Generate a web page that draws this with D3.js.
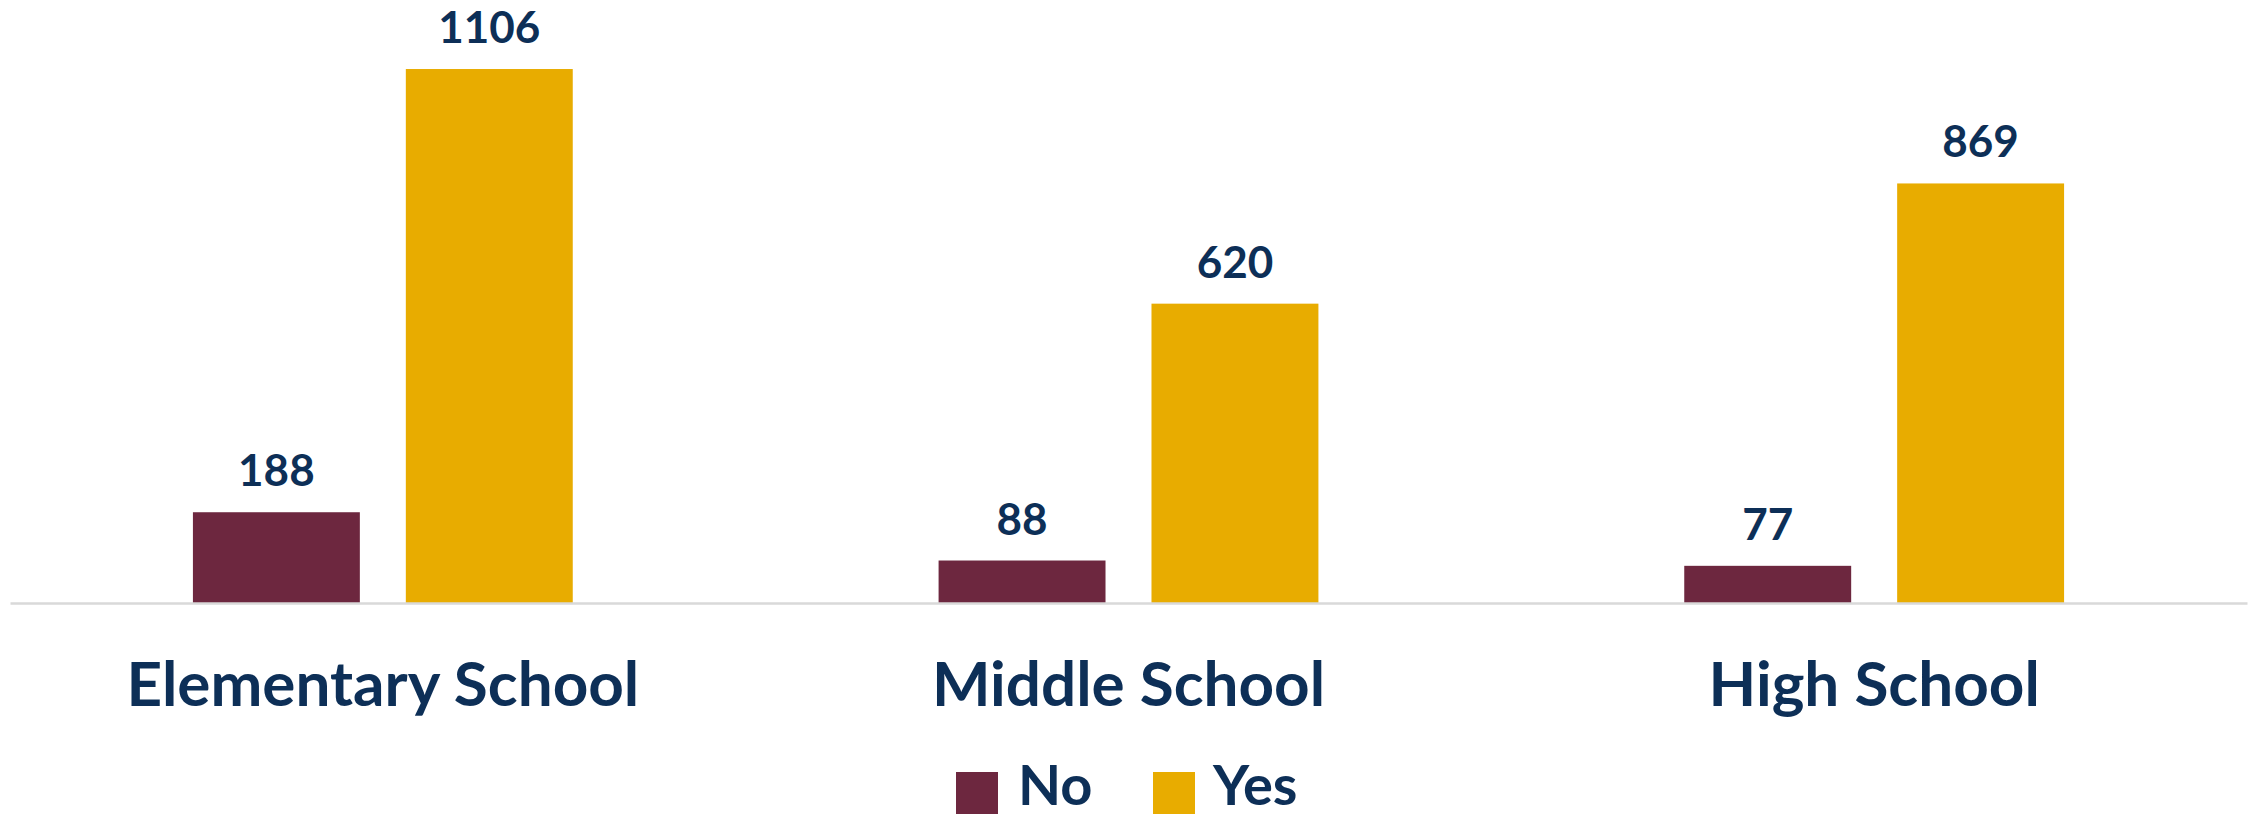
<!DOCTYPE html>
<html><head><meta charset="utf-8">
<script src="https://cdn.jsdelivr.net/npm/d3@7"></script>
<style>body{margin:0;background:#fff}svg{display:block}text{font-family:Lato,"Open Sans",sans-serif;font-weight:700}</style>
</head><body><svg id="c" width="2257" height="819"></svg>
<script>
const categories = ["Elementary School","Middle School","High School"];
const seriesNames = ["No","Yes"];
const noValues = [188, 88, 77];
const yesValues = [1106, 620, 869];
const seriesColors = ["#6D273F","#E8AC00"];

const svg = d3.select("#c");
const x0 = d3.scaleBand().domain(categories).range([10, 2247]).paddingInner(0).paddingOuter(0);
const x1 = d3.scaleBand().domain(seriesNames).range([0, x0.bandwidth()]).paddingInner(46/213).paddingOuter(183/213);
const y = d3.scaleLinear().domain([0, 1200]).range([603, 603 - 1200*0.4828]);
const textColor = "#0D2F57";

const data = categories.map((c,i)=>({cat:c, vals:[{s:"No",v:noValues[i]},{s:"Yes",v:yesValues[i]}]}));
const color = d3.scaleOrdinal().domain(seriesNames).range(seriesColors);

const g = svg.selectAll("g.cat").data(data).join("g").attr("class","cat")
  .attr("transform", d=>`translate(${x0(d.cat)},0)`);
g.selectAll("rect").data(d=>d.vals).join("rect")
  .attr("x", d=>x1(d.s)).attr("width", x1.bandwidth())
  .attr("y", d=>y(d.v)).attr("height", d=>y(0)-y(d.v))
  .attr("fill", d=>color(d.s));
g.selectAll("text.val").data(d=>d.vals).join("text").attr("class","val")
  .attr("x", d=>x1(d.s)+x1.bandwidth()/2).attr("y", d=>y(d.v)-26)
  .attr("text-anchor","middle").attr("fill",textColor).attr("font-size",44)
  .text(d=>d.v);

// axis
const xAxis = d3.axisBottom(x0).tickSize(0).tickPadding(0);
const ax = svg.append("g").attr("transform","translate(0,603)").call(xAxis);
ax.select(".domain").attr("stroke","#D9D9D9").attr("stroke-width",2.5);
ax.selectAll(".tick text").attr("dy",null).attr("y",103).attr("font-size",62)
  .attr("fill",textColor).style("font-family","Lato, 'Open Sans', sans-serif").style("font-weight",700);

// legend
const legend = svg.append("g");
const items = [{s:"No",sx:956,tx:1018},{s:"Yes",sx:1153,tx:1213}];
const li = legend.selectAll("g").data(items).join("g");
li.append("rect").attr("x",d=>d.sx).attr("y",772).attr("width",42).attr("height",42).attr("fill",d=>color(d.s));
li.append("text").attr("x",d=>d.tx).attr("y",805).attr("font-size",56).attr("fill",textColor).text(d=>d.s);
</script></body></html>
